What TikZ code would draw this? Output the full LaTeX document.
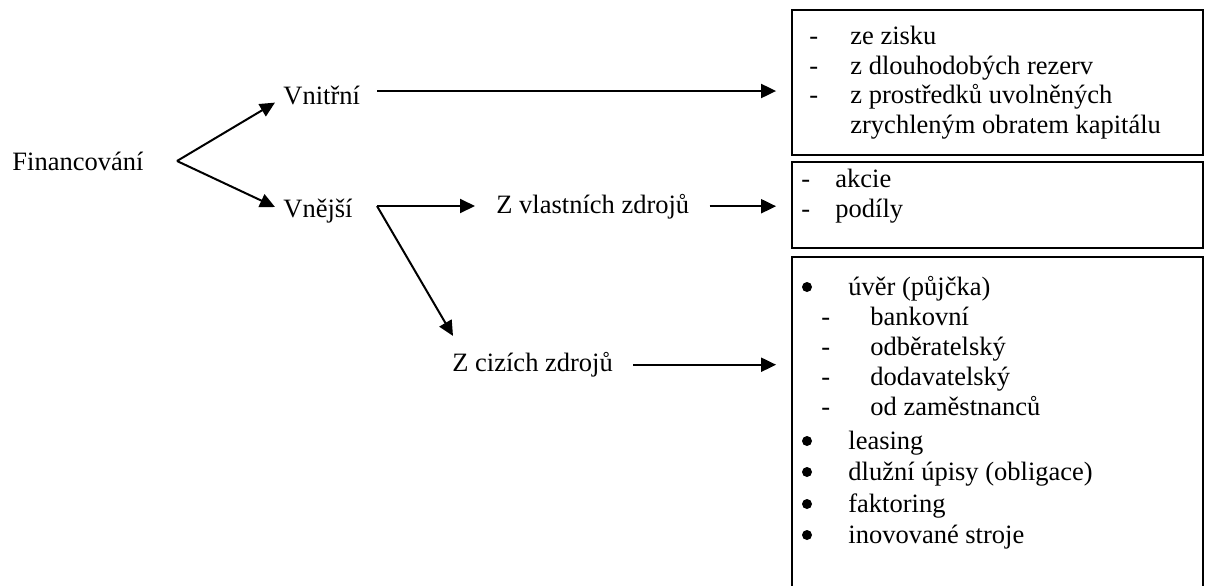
\documentclass[tikz,border=0pt]{standalone}
\usepackage{fontspec}
\setmainfont{Liberation Serif}
\usetikzlibrary{arrows.meta}

\begin{document}
\begin{tikzpicture}[x=0.5pt, y=-0.5pt,
    txt/.style={anchor=base west, inner sep=0pt, font=\fontsize{13.25}{15}\selectfont},
    arr/.style={-{Triangle[length=7.5pt,width=7pt]}, line width=1pt},
    box/.style={draw, line width=0.9pt, inner sep=0pt, minimum width=205.5pt}]
    \clip (0,0) rectangle (1206,585);

    % tree
    \node[txt] (fin) at (12,170.5) {Financování};
    \node[txt] (vni) at (283,104) {Vnitřní};
    \node[txt] (vne) at (283,217) {Vnější};
    \node[txt] (vla) at (496,213) {Z vlastních zdrojů};
    \node[txt] (ciz) at (452,371.5) {Z cizích zdrojů};

    % boxes
    \node[box, minimum height=72.5pt] (box1) at (997.5,82.5) {};
    \node[box, minimum height=43pt] (box2) at (997.5,205) {};
    \node[box, minimum height=171.5pt] (box3) at (997.5,428.5) {};

    \coordinate (split) at (177,161);
    \coordinate (vni-out) at (377,91);
    \coordinate (vne-out) at (377,206);

    \draw[arr] (split) -- ([xshift=-4pt,yshift=0.7pt]vni.base west);
    \draw[arr] (split) -- ([xshift=-4pt,yshift=5pt]vne.base west);
    \draw[arr, shorten >=7.5pt] (vni-out) -- (vni-out -| box1.west);
    \draw[arr] (vne-out) -- ([xshift=-10.5pt]vla.west |- vne-out);
    \draw[arr] (vne-out) -- ([xshift=0.5pt,yshift=8pt]ciz.north west);
    \draw[arr, shorten >=7.5pt] ([xshift=10pt]vla.east) -- (box2.west |- vla.east);
    \draw[arr, shorten >=7.5pt] ([xshift=10pt]ciz.east) -- (box3.west |- ciz.east);

    % box texts
    \node[txt] (zisk) at (809,44) {\makebox[20.5pt][l]{-}ze zisku};
    \node[txt] (rez) at (809,74) {\makebox[20.5pt][l]{-}z dlouhodobých rezerv};
    \node[txt] (pros) at (809,103.5) {\makebox[20.5pt][l]{-}z prostředků uvolněných};
    \node[txt] (obrat) at (850,133) {zrychleným obratem kapitálu};

    \node[txt] (akc) at (801,187) {\makebox[17pt][l]{-}akcie};
    \node[txt] (pod) at (801,217) {\makebox[17pt][l]{-}podíly};

    \node[txt] (uver) at (848,295) {úvěr (půjčka)};
    \node[txt] (bank) at (821,325) {\makebox[24.5pt][l]{-}bankovní};
    \node[txt] (odb) at (821,355) {\makebox[24.5pt][l]{-}odběratelský};
    \node[txt] (dod) at (821,385) {\makebox[24.5pt][l]{-}dodavatelský};
    \node[txt] (zam) at (821,415) {\makebox[24.5pt][l]{-}od zaměstnanců};
    \node[txt] (leas) at (848,449) {leasing};
    \node[txt] (upis) at (848,480) {dlužní úpisy (obligace)};
    \node[txt] (fakt) at (848,512) {faktoring};
    \node[txt] (stroj) at (848,543) {inovované stroje};

    % bullets
    \foreach \n in {uver,leas,upis,fakt,stroj}
        \fill ([xshift=-20.5pt,yshift=4pt]\n.base west) circle (2.5pt);
\end{tikzpicture}
\end{document}
